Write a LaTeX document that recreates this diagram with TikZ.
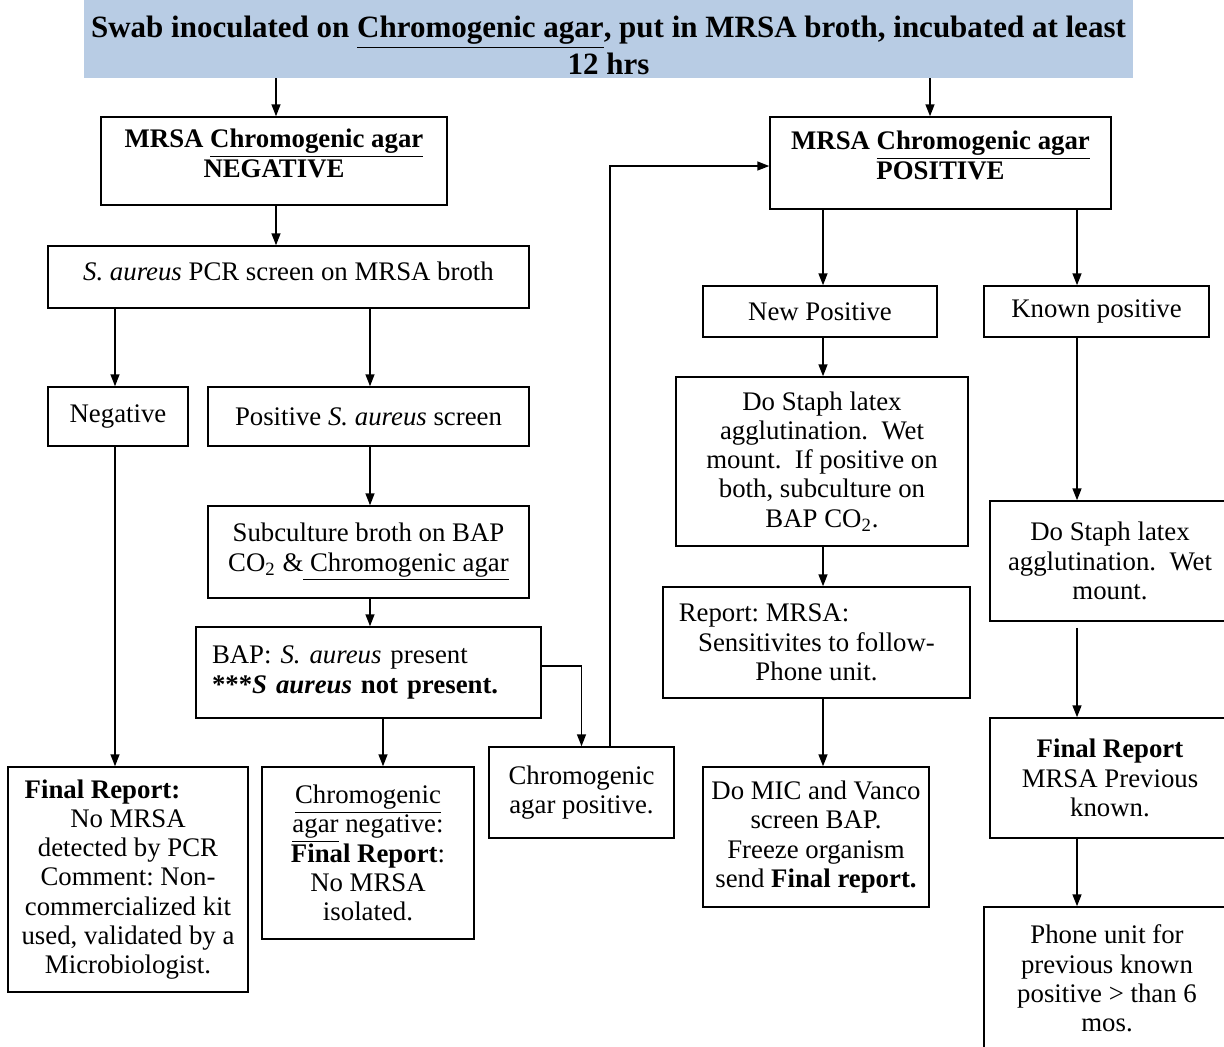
\documentclass[tikz,border=0pt]{standalone}
\usepackage{fontspec}
\setmainfont{Liberation Serif}
\usetikzlibrary{arrows.meta}
\definecolor{bannerblue}{HTML}{B8CCE4}
\frenchspacing
\begin{document}
\begin{tikzpicture}[x=0.5pt,y=-0.5pt,
  box/.style={draw, line width=0.75pt, inner sep=2pt, align=center, font=\fontsize{13.4}{14.65}\selectfont},
  head/.style={box, text depth=8pt, font=\fontsize{13.4}{15}\selectfont\bfseries},
  arr/.style={line width=0.75pt, -{Triangle[length=6pt,width=4.5pt]}},
  ln/.style={line width=0.75pt}]
\useasboundingbox (0,0) rectangle (1224,1046);
\fill[white] (0,0) rectangle (1224,1046);
\clip (0,0) rectangle (1224,1046);

% banner
\node[fill=bannerblue, minimum width=524.5pt, minimum height=39pt, inner sep=0pt, align=center,
      font=\fontsize{15.5}{18.5}\selectfont\bfseries] (banner) at (608.5,39)
  {\rule{0pt}{17pt}Swab inoculated on \underline{Chromogenic agar}, put in MRSA broth, incubated at least\\12 hrs};

% left side
\node[head, minimum width=173pt, minimum height=44pt] (negh) at (274,161)
  {MRSA \underline{Chromogenic agar}\\NEGATIVE};
\node[box, text depth=6pt, minimum width=240.5pt, minimum height=31pt] (pcr) at (288.5,277)
  {\textit{S. aureus} PCR screen on MRSA broth};
\node[box, minimum width=70pt, minimum height=29.5pt] (neg) at (118,416.5) {Negative};
\node[box, minimum width=160.5pt, minimum height=29.5pt] (poss) at (368.5,416.5)
  {Positive \textit{S. aureus} screen};
\node[box, minimum width=160.5pt, minimum height=46pt] (sub) at (368.5,552)
  {Subculture broth on BAP\\CO\textsubscript{2} \&\underline{ Chromogenic agar}};
\node[box, align=left, inner xsep=8pt, text width=156.5pt, minimum height=45.5pt] (bap) at (368.5,672.5)
  {BAP: \textit{S. aureus} present\\\textbf{***\textit{S aureus} not present.}};
\node[box, minimum width=92.5pt, minimum height=45.5pt] (cpos) at (581.5,792.5)
  {Chromogenic\\agar positive.};
\node[box, minimum width=120pt, minimum height=112.5pt] (finL) at (128,879.5)
  {\textbf{Final Report:}\hspace*{25.5pt}\\No MRSA\\detected by PCR\\Comment: Non-\\commercialized kit\\used, validated by a\\Microbiologist.};
\node[box, minimum width=106pt, minimum height=86pt] (cneg) at (368,853)
  {\underline{Chromogenic}\\\underline{agar} negative:\\\textbf{Final Report}:\\No MRSA\\isolated.};

% right side
\node[head, minimum width=170.5pt, minimum height=46pt] (posh) at (940.5,163)
  {MRSA \underline{Chromogenic agar}\\POSITIVE};
\node[box, minimum width=117pt, minimum height=25.5pt] (newp) at (820,311.5) {New Positive};
\node[box, minimum width=112.5pt, minimum height=25.5pt] (known) at (1096.5,311.5) {Known positive};
\node[box, minimum width=146pt, minimum height=84.5pt] (st1) at (822,461.5)
  {Do Staph latex\\agglutination.\ \ Wet\\mount.\ \ If positive on\\both, subculture on\\BAP CO\textsubscript{2}.};
\node[box, minimum width=153.5pt, minimum height=55.5pt] (rep) at (816.5,642.5)
  {Report: MRSA:\hspace*{52.5pt}\\Sensitivites to follow-\\Phone unit.};
\node[box, minimum width=113pt, minimum height=70pt] (mic) at (816,837)
  {Do MIC and Vanco\\screen BAP.\\Freeze organism\\send \textbf{Final report.}};
\node[box, minimum width=120pt, minimum height=60pt] (st2) at (1110,561)
  {Do Staph latex\\agglutination.\ \ Wet\\mount.};
\node[box, minimum width=120pt, minimum height=60pt] (finR) at (1110,778)
  {\textbf{Final Report}\\MRSA Previous\\known.};
\node[box, minimum width=123pt, minimum height=71.5pt] (phone) at (1107,978.5)
  {Phone unit for\\previous known\\positive > than 6\\mos.};

% connectors
\draw[arr] ([xshift=1pt]negh.north |- banner.south) -- ([xshift=1pt]negh.north);
\draw[arr] ([xshift=-5.25pt]posh.north |- banner.south) -- ([xshift=-5.25pt]posh.north);
\draw[arr] ([xshift=1pt]negh.south) -- ([xshift=1pt]negh.south |- pcr.north);
\draw[arr] ([xshift=-1.5pt]neg.north |- pcr.south) -- ([xshift=-1.5pt]neg.north);
\draw[arr] ([xshift=0.75pt]poss.north |- pcr.south) -- ([xshift=0.75pt]poss.north);
\draw[arr] ([xshift=0.75pt]poss.south) -- ([xshift=0.75pt]sub.north);
\draw[arr] ([xshift=0.75pt]sub.south) -- ([xshift=0.75pt]bap.north);
\draw[arr] ([xshift=7.5pt]cneg.north |- bap.south) -- ([xshift=7.5pt]cneg.north);
\draw[arr] ([yshift=3.25pt]bap.east) -| (cpos.north);
\draw[arr] ([xshift=14.25pt]cpos.north) |- ([yshift=-1.5pt]posh.west);
\draw[arr] ([xshift=-1.5pt]neg.south) -- ([xshift=-1.5pt]neg.south |- finL.north);
\draw[arr] ([xshift=1.5pt]newp.north |- posh.south) -- ([xshift=1.5pt]newp.north);
\draw[arr] ([xshift=-9.75pt]known.north |- posh.south) -- ([xshift=-9.75pt]known.north);
\draw[arr] ([xshift=1.5pt]newp.south) -- ([xshift=1.5pt]newp.south |- st1.north);
\draw[arr] ([xshift=0.5pt]st1.south) -- ([xshift=0.5pt]st1.south |- rep.north);
\draw[arr] ([xshift=3.25pt]rep.south) -- ([xshift=3.25pt]rep.south |- mic.north);
\coordinate (kx) at ([xshift=-9.75pt]known.south);
\draw[arr] (kx) -- (kx |- st2.north);
\draw[arr] ([yshift=-3pt]kx |- st2.south) -- (kx |- finR.north);
\draw[arr] (kx |- finR.south) -- (kx |- phone.north);
\end{tikzpicture}
\end{document}
